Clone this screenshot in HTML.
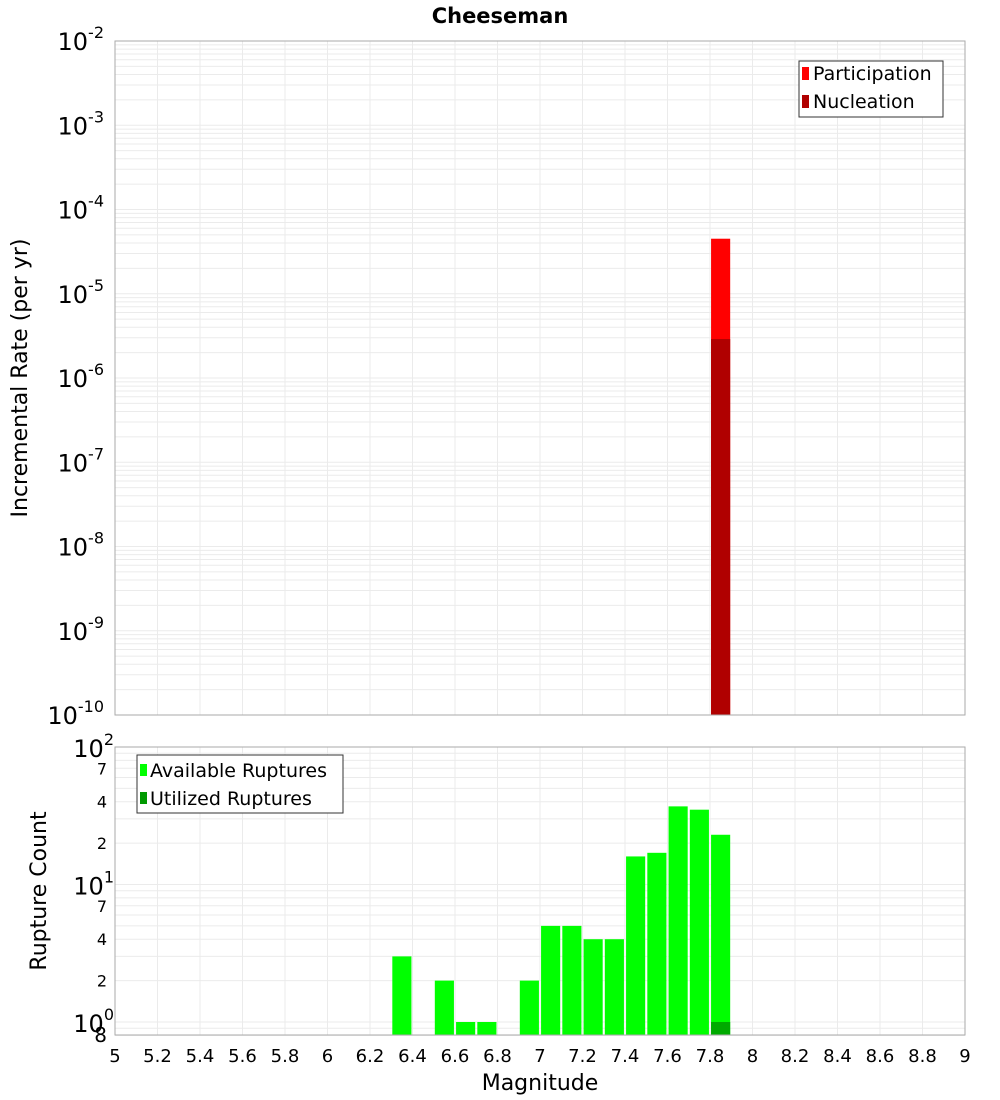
<!DOCTYPE html>
<html><head><meta charset="utf-8"><style>
body{margin:0;background:#fff;}
svg{display:block;font-family:"DejaVu Sans","Liberation Sans",sans-serif;}
</style></head><body>
<svg id="c" width="1000" height="1100" viewBox="0 0 1000 1100" xmlns="http://www.w3.org/2000/svg">
<text x="500" y="23" text-anchor="middle" font-size="21" font-weight="bold">Cheeseman</text>
<g id="topPlot"></g>
<g id="botPlot"></g>
<text transform="translate(27,378) rotate(-90)" text-anchor="middle" font-size="22">Incremental Rate (per yr)</text>
<text transform="translate(46,891) rotate(-90)" text-anchor="middle" font-size="22">Rupture Count</text>
<text x="540" y="1090" text-anchor="middle" font-size="22">Magnitude</text>
<g>
<rect x="799" y="61" width="144" height="56" fill="#fff" stroke="#333"/>
<rect x="802" y="67" width="7" height="13" fill="#ff0000"/>
<text x="813" y="80" font-size="19">Participation</text>
<rect x="802" y="95" width="7" height="13" fill="#b00000"/>
<text x="813" y="108" font-size="19">Nucleation</text>
</g>
<g>
<rect x="137" y="755" width="206" height="58" fill="#fff" stroke="#333"/>
<rect x="140" y="764" width="7" height="12" fill="#00ff00"/>
<text x="150" y="777" font-size="19">Available Ruptures</text>
<rect x="140" y="792" width="7" height="12" fill="#009900"/>
<text x="150" y="805" font-size="19">Utilized Ruptures</text>
</g>
</svg>
<script>
const mags=[6.35,6.55,6.65,6.75,6.95,7.05,7.15,7.25,7.35,7.45,7.55,7.65,7.75,7.85];
const available=[3,2,1,1,2,5,5,4,4,16,17,37,35,23];
const utilizedMags=[7.85];
const utilized=[1];
const rateMags=[7.85];
const participation=[4.5e-5];
const nucleation=[2.9e-6];
const xTicks=[5,5.2,5.4,5.6,5.8,6,6.2,6.4,6.6,6.8,7,7.2,7.4,7.6,7.8,8,8.2,8.4,8.6,8.8,9];
const topDecades=[-10,-9,-8,-7,-6,-5,-4,-3,-2];
const botMinorLabels=[2,4,7,20,40,70];

const NS="http://www.w3.org/2000/svg";
const L=115,R=965;
const X=m=>L+(m-5)/4*(R-L);
const T0=41,T1=715;
const yT=v=>T1-(Math.log10(v)+10)/8*(T1-T0);
const B0=747,B1=1035;
const dec=(1022-B0)/2;
const yB=v=>1022-Math.log10(v)*dec;
function el(p,t,a,txt){const e=document.createElementNS(NS,t);for(const k in a)e.setAttribute(k,a[k]);if(txt!=null)e.textContent=txt;p.appendChild(e);return e;}
const topG=document.getElementById('topPlot'),botG=document.getElementById('botPlot');
function frame(g,y0,y1,grid){
  el(g,'rect',{x:L,y:y0,width:R-L,height:y1-y0,fill:'#fff'});
  grid.forEach(y=>{const ln=el(g,'line',{x1:L,x2:R,y1:y,y2:y,stroke:'#ebebeb','stroke-width':1});
  
  });
  xTicks.forEach(m=>{const ln=el(g,'line',{x1:X(m),x2:X(m),y1:y0,y2:y1,stroke:'#ebebeb'});
  
  });
}
let tg=[];for(let d=-10;d<-2;d++)for(let k=1;k<10;k++)tg.push(yT(k*Math.pow(10,d)));tg.push(yT(1e-2));
frame(topG,T0,T1,tg);
let bg=[];for(let d=-1;d<2;d++)for(let k=1;k<10;k++){const v=k*Math.pow(10,d);if(v>=0.8)bg.push(yB(v));}bg.push(yB(100));
frame(botG,B0,B1,bg);
const bw=(X(5.1)-X(5))*0.9;
rateMags.forEach((m,i)=>{
  let r=el(topG,'rect',{x:X(m)-bw/2,y:yT(participation[i]),width:bw,height:T1-yT(participation[i]),fill:'#ff0000'});
  
  
  r=el(topG,'rect',{x:X(m)-bw/2,y:yT(nucleation[i]),width:bw,height:T1-yT(nucleation[i]),fill:'#b00000'});
  
  
});
mags.forEach((m,i)=>{
  const r=el(botG,'rect',{x:X(m)-bw/2,y:yB(available[i]),width:bw,height:B1-yB(available[i]),fill:'#00ff00'});
  
  
});
utilizedMags.forEach((m,i)=>{
  const r=el(botG,'rect',{x:X(m)-bw/2,y:yB(utilized[i]),width:bw,height:B1-yB(utilized[i]),fill:'#00aa00'});
  
  
});
el(topG,'rect',{x:L,y:T0,width:R-L,height:T1-T0,fill:'none',stroke:'#aaa'});
el(botG,'rect',{x:L,y:B0,width:R-L,height:B1-B0,fill:'none',stroke:'#aaa'});
topDecades.forEach(d=>{
  const y=yT(Math.pow(10,d));
  const t=el(topG,'text',{x:104,y:y+9,'text-anchor':'end','font-size':24});
  
  
  el(t,'tspan',{},'10');
  el(t,'tspan',{dy:-12,'font-size':16},String(d));
});
[0,1,2].forEach(d=>{
  const y=yB(Math.pow(10,d));
  const t=el(botG,'text',{x:114,y:y+10,'text-anchor':'end','font-size':24});
  
  
  el(t,'tspan',{},'10');
  el(t,'tspan',{dy:-12,'font-size':16},String(d));
});
botMinorLabels.forEach(v=>{
  const t=el(botG,'text',{x:107,y:yB(v)+6,'text-anchor':'end','font-size':16},String(v%10===0?v/10:v));
  
  
});
{const t=el(botG,'text',{x:107,y:1042,'text-anchor':'end','font-size':20},'8');

}
xTicks.forEach(m=>{
  const t=el(botG,'text',{x:X(m),y:1062,'text-anchor':'middle','font-size':18},String(m));
  
  
});
</script>
</body></html>
